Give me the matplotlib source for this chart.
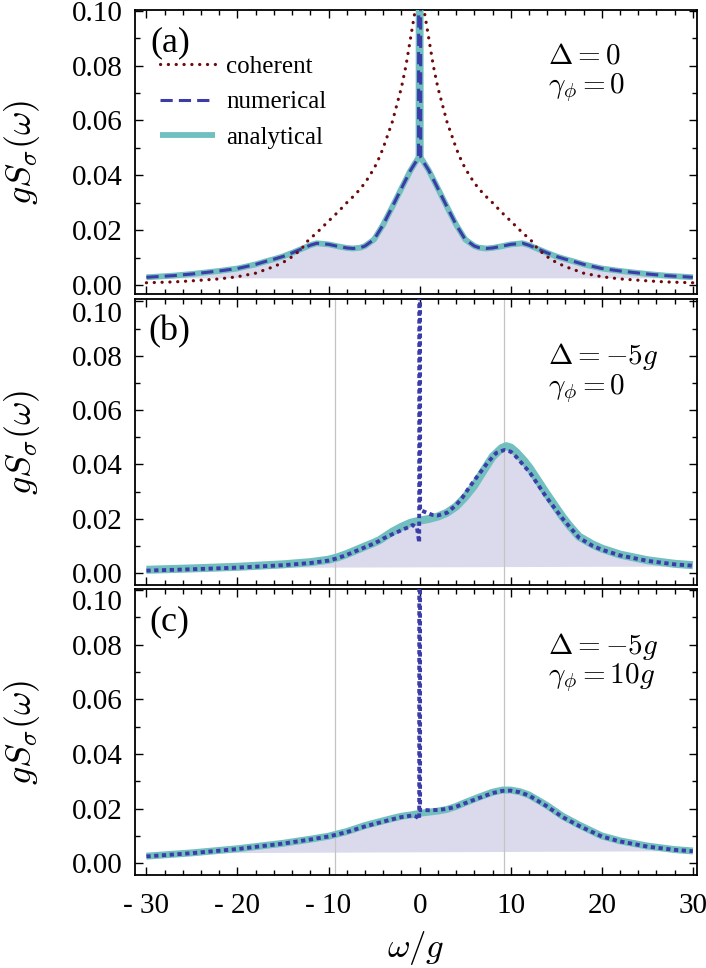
import numpy as np
import matplotlib.pyplot as plt
from matplotlib.ticker import MultipleLocator, FixedLocator, FuncFormatter

plt.rcParams['font.family'] = ['Liberation Serif', 'DejaVu Serif']
plt.rcParams['mathtext.fontset'] = 'cm'

# ---- panel (a): Delta = 0, gamma_phi = 0 ----
w_a = [-30, -27, -25, -22, -20, -18, -17, -16, -15, -14, -13, -12, -11.3, -10, -9, -8, -7.3, -6.5, -6,
       -5, -4, -3, -2, -1, -0.12, 0, 0.12, 1, 2, 3, 4, 5, 6, 6.5, 7.3, 8, 9, 10, 11.3, 12, 13, 14, 15,
       16, 17, 18, 20, 22, 25, 27, 30]
ana_a = [0.0028, 0.0034, 0.0040, 0.0051, 0.0060, 0.0075, 0.0085, 0.0094, 0.0104, 0.0117, 0.0131, 0.0145,
         0.0152, 0.0148, 0.0141, 0.0135, 0.0133, 0.0136, 0.0142, 0.0166, 0.0220, 0.0285, 0.0352, 0.0418,
         0.0465, 0.6, 0.0465, 0.0418, 0.0352, 0.0285, 0.0220, 0.0166, 0.0142, 0.0136, 0.0133, 0.0135,
         0.0141, 0.0148, 0.0152, 0.0145, 0.0131, 0.0117, 0.0104, 0.0094, 0.0085, 0.0075, 0.0060, 0.0051,
         0.0040, 0.0034, 0.0028]
num_a = ana_a  # numerical and analytical coincide in (a)
w_coh = [-30, -27, -25, -22, -20, -18, -17, -16, -15, -14, -13, -12.3, -11, -10, -9, -8, -7, -6, -5, -4.4,
         -4, -3, -2, -1.5, -1, -0.5, 0, 0.5, 1, 1.5, 2, 3, 4, 4.4, 5, 6, 7, 8, 9, 10, 11, 12.3, 13, 14, 15,
         16, 17, 18, 20, 22, 25, 27, 30]
coh_a = [0.0008, 0.0011, 0.0015, 0.0022, 0.0030, 0.0043, 0.0055, 0.0067, 0.0082, 0.0103, 0.0130, 0.0160,
         0.0200, 0.0233, 0.0265, 0.0300, 0.0332, 0.0372, 0.0425, 0.0467, 0.0500, 0.0595, 0.0720, 0.0800,
         0.0900, 0.1000, 0.115, 0.1000, 0.0900, 0.0800, 0.0720, 0.0595, 0.0500, 0.0467, 0.0425, 0.0372,
         0.0332, 0.0300, 0.0265, 0.0233, 0.0200, 0.0160, 0.0130, 0.0103, 0.0082, 0.0067, 0.0055, 0.0043,
         0.0030, 0.0022, 0.0015, 0.0011, 0.0008]
base_a = [0.0024, 0.0024]

# ---- panel (b): Delta = -5g, gamma_phi = 0 ----
w_b_ana = [-30, -25, -20, -15, -12, -10, -9, -8, -7, -6, -5, -4.4, -4, -3, -2, -1, 0, 1, 2, 3, 4, 5, 6, 7,
           8, 9, 9.5, 10, 10.6, 11.5, 12.1, 13, 13.9, 15, 15.7, 16.5, 17.5, 19, 20, 22, 25, 28, 30]
ana_b = [0.0012, 0.0017, 0.0023, 0.0032, 0.0040, 0.0049, 0.0058, 0.0070, 0.0084, 0.0098, 0.0112, 0.0121,
         0.0130, 0.0152, 0.0170, 0.0185, 0.0193, 0.0199, 0.0208, 0.0222, 0.0245, 0.0280, 0.0322, 0.0376,
         0.0428, 0.0460, 0.0467, 0.0462, 0.0445, 0.0412, 0.0386, 0.0340, 0.0294, 0.0240, 0.0206, 0.0172,
         0.0134, 0.0105, 0.0090, 0.0068, 0.0047, 0.0034, 0.0029]
w_b_num = [-30, -25, -20, -15, -12, -10, -9, -8, -7, -6, -5, -4.4, -4, -3, -2.5, -2, -1, -0.77, -0.3, -0.05,
           0, 0.05, 0.5, 1.4, 2, 3, 4, 4.7, 5.5, 6.6, 7.5, 8.4, 9.3, 10, 10.6, 12.1, 13.9, 15.7, 17.5, 19,
           20, 22, 25, 28, 30]
num_b = [0.0009, 0.0014, 0.0020, 0.0029, 0.0037, 0.0046, 0.0055, 0.0067, 0.0081, 0.0095, 0.0109, 0.0119,
         0.0127, 0.0143, 0.0150, 0.0158, 0.0172, 0.0177, 0.0168, 0.0112, 0.6, 0.0232, 0.0226, 0.0214,
         0.0212, 0.0222, 0.0250, 0.0278, 0.0318, 0.0368, 0.0408, 0.0442, 0.0453, 0.0447, 0.0428, 0.0370,
         0.0280, 0.0200, 0.0130, 0.0100, 0.0086, 0.0065, 0.0045, 0.0032, 0.0027]
base_b = [0.0018, 0.0024]

# ---- panel (c): Delta = -5g, gamma_phi = 10g ----
w_c_ana = [-30, -25, -20, -15, -12, -10, -8, -6, -4.4, -3, -2, -0.77, 0, 1, 2, 3, 4, 5, 6.6, 8, 9.1, 10,
           11, 12, 13.9, 15.7, 17.5, 20, 22, 25, 28, 30]
ana_c = [0.0026, 0.0038, 0.0053, 0.0073, 0.0088, 0.0099, 0.0116, 0.0138, 0.0152, 0.0164, 0.0172, 0.0178,
         0.0183, 0.0187, 0.0191, 0.0197, 0.0208, 0.0222, 0.0243, 0.0260, 0.0268, 0.0268, 0.0262, 0.0250,
         0.0213, 0.0172, 0.0140, 0.0100, 0.0082, 0.0063, 0.0050, 0.0045]
w_c_num = [-30, -25, -20, -15, -12, -10, -8, -6, -4.4, -3, -2, -0.77, -0.3, -0.05, 0, 0.05, 0.5, 1, 2, 3, 4,
           5, 6.6, 8, 9.1, 10, 11, 12, 13.9, 15.7, 17.5, 20, 22, 25, 28, 30]
num_c = [0.0025, 0.0037, 0.0052, 0.0072, 0.0087, 0.0098, 0.0114, 0.0135, 0.0149, 0.0161, 0.0169, 0.0175,
         0.0170, 0.0160, 0.6, 0.0194, 0.0195, 0.0194, 0.0195, 0.0199, 0.0207, 0.0220, 0.0240, 0.0257,
         0.0265, 0.0266, 0.0260, 0.0248, 0.0210, 0.0169, 0.0137, 0.0098, 0.0080, 0.0061, 0.0049, 0.0044]
base_c = [0.0036, 0.0044]

res_lines = [-9.3, 9.3]
xtick_vals = [-30, -20, -10, 0, 10, 20, 30]
xtick_text = ['- 30', '- 20', '- 10', '0', '10', '20', '30']
ylims = [(-0.0033, 0.1003), (-0.0044, 0.1009), (-0.0043, 0.1004)]
params = [(r'$\Delta = 0$', r'$\gamma_\phi = 0$'),
          (r'$\Delta = -5g$', r'$\gamma_\phi = 0$'),
          (r'$\Delta = -5g$', r'$\gamma_\phi = 10g$')]
param_y = [(0.835, 0.725), (0.80, 0.685), (0.80, 0.69)]
tags = ['(a)', '(b)', '(c)']

c_ana = '#72bfbf'
c_num = '#3c3ca8'
c_coh = '#6e0a0a'
c_fill = '#dadaec'

fig = plt.figure(figsize=(7.06, 9.68), dpi=100)
L, W = 135 / 706, 562 / 706
ax_a = fig.add_axes([L, 1 - 294 / 968, W, 284 / 968])
ax_b = fig.add_axes([L, 1 - 585 / 968, W, 286 / 968])
ax_c = fig.add_axes([L, 1 - 875 / 968, W, 286 / 968])
axes = [ax_a, ax_b, ax_c]

panels = [(w_a, ana_a, w_a, num_a, base_a, 4.2, (0, (4, 2)), 2.2),
          (w_b_ana, ana_b, w_b_num, num_b, base_b, 5.8, (0, (1.1, 0.9)), 2.8),
          (w_c_ana, ana_c, w_c_num, num_c, base_c, 5.0, (0, (1.1, 0.9)), 2.8)]


def ylab(v, pos):
    # the top label is drawn separately (shifted down) in panels (b) and (c)
    return '' if abs(v - 0.1) < 1e-6 else '%.2f' % v


for i, ax in enumerate(axes):
    wa, ya, wn, yn, base, lw_a, dash, lw_n = panels[i]
    wa = np.array(wa, dtype=float)
    ya = np.array(ya, dtype=float)
    keep = ya < 0.1
    ax.fill(np.r_[wa[keep], wa[-1], wa[0]], np.r_[ya[keep], base[1], base[0]],
            color=c_fill, lw=0, zorder=1)
    if i > 0:
        for xv in res_lines:
            ax.axvline(xv, color='#c4c4c4', lw=0.9, zorder=2)
    h_ana, = ax.plot(wa, ya, color=c_ana, lw=lw_a, solid_capstyle='butt', zorder=3, label='analytical')
    h_num, = ax.plot(wn, yn, color=c_num, lw=lw_n, ls=dash, dash_capstyle='butt', zorder=4,
                     label='numerical')
    if i == 0:
        h_coh, = ax.plot(w_coh, coh_a, color=c_coh, lw=2.3, ls=(0, (0.05, 2.4)),
                         dash_capstyle='round', zorder=5, label='coherent')
        ax.legend(handles=[h_coh, h_num, h_ana], loc='upper left', bbox_to_anchor=(0.044, 0.84),
                  frameon=False, fontsize=18, handlelength=2.2, handletextpad=0.45,
                  labelspacing=0.52, borderpad=0, borderaxespad=0)

    ax.set_xlim(-31.25, 30.45)
    ax.set_ylim(*ylims[i])
    ax.xaxis.set_major_locator(FixedLocator(xtick_vals))
    ax.xaxis.set_minor_locator(MultipleLocator(2))
    ax.yaxis.set_major_locator(MultipleLocator(0.02))
    ax.yaxis.set_minor_locator(MultipleLocator(0.01))
    ax.tick_params(which='both', direction='in', top=True, right=True, width=1.0)
    ax.tick_params(which='major', length=6)
    ax.tick_params(which='minor', length=3.5)
    ax.tick_params(axis='y', labelsize=21, pad=9)
    if i == 0:
        ax.yaxis.set_major_formatter(plt.FormatStrFormatter('%.2f'))
    else:
        ax.yaxis.set_major_formatter(FuncFormatter(ylab))
        ax.annotate('0.10', xy=(0, 0.10), xycoords=('axes fraction', 'data'), xytext=(-9, -9.5),
                    textcoords='offset points', ha='right', va='center', fontsize=21)
    if i == 2:
        ax.set_xticklabels(xtick_text)
        ax.tick_params(axis='x', labelsize=21, pad=13)
        ax.set_xlabel(r'$\omega/g$', fontsize=25)
        ax.xaxis.set_label_coords(0.5, -0.19)
    else:
        ax.set_xticklabels([])
    for s in ax.spines.values():
        s.set_linewidth(1.3)

    ax.set_ylabel(r'$gS_\sigma(\omega)$', fontsize=26)
    ax.yaxis.set_label_coords(-0.165, 0.5)

    ax.text(0.062, 0.885, tags[i], transform=ax.transAxes, fontsize=26, ha='center', va='center')
    d_txt, g_txt = params[i]
    ax.text(0.735, param_y[i][0], d_txt, transform=ax.transAxes, fontsize=21, ha='left', va='center')
    ax.text(0.735, param_y[i][1], g_txt, transform=ax.transAxes, fontsize=21, ha='left', va='center')

fig.savefig('out.png', dpi=100)
